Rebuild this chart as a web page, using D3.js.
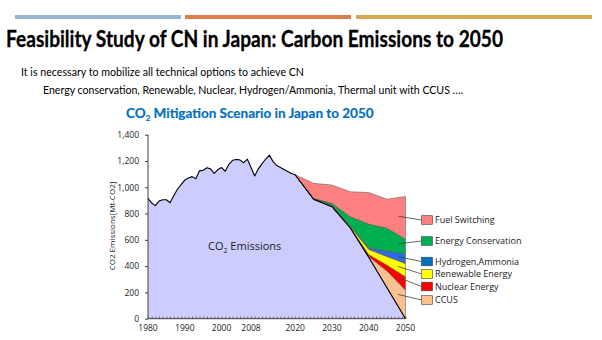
<!DOCTYPE html>
<html><head><meta charset="utf-8">
<script src="https://cdn.jsdelivr.net/npm/d3@7"></script>
<style>body{margin:0;background:#fff}svg{display:block}</style>
</head><body><svg id="c" width="602" height="340"></svg>
<script>
// ---- data ----
const histYears = d3.range(1980, 2021);
const histEmissions = [916,880,860,895,905,905,882,935,985,1020,1055,1070,1081,1065,1125,1130,1148,1140,1105,1135,1150,1122,1175,1205,1212,1208,1187,1215,1150,1086,1140,1180,1215,1245,1195,1165,1150,1135,1120,1105,1095];
const scenYears = [2020,2025,2030,2035,2040,2045,2050];
const scenEmissions = [1095,909,852,690,467,233,0];
const ccus        = [0,0,1,2,7,130,218];
const nuclear     = [0,0,2,3,14,44,102];
const renewable   = [0,4,8,8,40,66,100];
const hydrogen    = [0,0,2,2,12,40,75];
const energyCons  = [0,3,13,71,180,175,110];
const fuelSwitch  = [0,114,139,190,240,221,325];
const layerNames  = ["CCUS","Nuclear Energy","Renewable Energy","Hydrogen,Ammonia","Energy Conservation","Fuel Switching"];
const layerColors = ["#FAC090","#FF0000","#FFFF00","#2E6BE6","#00B050","#FF8080"];
const legendBoxColors = ["#FAC090","#FF0000","#FFFF00","#0070C0","#00B050","#FF8080"];
const yTicks = [0,200,400,600,800,1000,1200,1400];
const xTickLabels = [1980,1990,2000,2008,2020,2030,2040,2050];

const svg = d3.select("#c");
svg.append("rect").attr("width",602).attr("height",340).attr("fill","#fff");

// decorative top bars
const bars = [[15,181,"#94B6D2"],[185,351,"#DD8047"],[356,592,"#D6A951"]];
svg.selectAll(".bar").data(bars).join("rect")
  .attr("x",d=>d[0]).attr("y",15).attr("width",d=>d[1]-d[0]).attr("height",4).attr("fill",d=>d[2]);

// titles
svg.append("text").attr("x",6).attr("y",47).attr("font-family","Lato, 'Open Sans', sans-serif")
  .attr("font-weight","bold").attr("font-size",22.5).attr("fill","#000")
  .attr("stroke","#000").attr("stroke-width",0.3)
  .attr("textLength",497).attr("lengthAdjust","spacingAndGlyphs")
  .text("Feasibility Study of CN in Japan:  Carbon Emissions to 2050");
svg.append("text").attr("x",21).attr("y",76).attr("font-family","Lato, 'Open Sans', sans-serif")
  .attr("font-size",12).attr("fill","#000")
  .attr("textLength",283).attr("lengthAdjust","spacingAndGlyphs")
  .text("It is necessary to mobilize all technical options to achieve CN");
svg.append("text").attr("x",43).attr("y",94).attr("font-family","Lato, 'Open Sans', sans-serif")
  .attr("font-size",12).attr("fill","#000")
  .attr("textLength",420).attr("lengthAdjust","spacingAndGlyphs")
  .text("Energy conservation, Renewable, Nuclear, Hydrogen/Ammonia, Thermal unit with CCUS ….");

const ct = svg.append("text").attr("x",126).attr("y",118).attr("font-family","Lato, 'Open Sans', sans-serif")
  .attr("font-weight","bold").attr("font-size",13.5).attr("fill","#0070C0")
  .attr("stroke","#0070C0").attr("stroke-width",0.2);
ct.append("tspan").text("CO");
ct.append("tspan").attr("font-size",8).attr("dy",3).text("2");
ct.append("tspan").attr("dy",-3).text(" Mitigation Scenario in Japan to 2050");

// scales
const x = d3.scaleLinear().domain([1980,2050]).range([148,405.5]);
const y = d3.scaleLinear().domain([0,1400]).range([318.7,134.7]);

// emissions area (lavender)
const emis = histYears.map((yr,i)=>({yr,v:histEmissions[i]}))
  .concat(scenYears.slice(1).map((yr,i)=>({yr,v:scenEmissions[i+1]})));
svg.append("path").datum(emis)
  .attr("d",d3.area().x(d=>x(d.yr)).y0(y(0)).y1(d=>y(d.v)))
  .attr("fill","#CCCCFF");

// stacked scenario layers
const table = scenYears.map((yr,i)=>({yr,base:scenEmissions[i],l0:ccus[i],l1:nuclear[i],l2:renewable[i],l3:hydrogen[i],l4:energyCons[i],l5:fuelSwitch[i]}));
const keys = ["base","l0","l1","l2","l3","l4","l5"];
const stacked = d3.stack().keys(keys)(table);
const layers = stacked.slice(1);
svg.selectAll(".layer").data(layers).join("path")
  .attr("d",d3.area().x(d=>x(d.data.yr)).y0(d=>y(d[0])).y1(d=>y(d[1])))
  .attr("fill",(d,i)=>layerColors[i]).attr("stroke","#505050").attr("stroke-width",0.5)
  .attr("stroke-linejoin","round");

// emissions line
svg.append("path").datum(emis)
  .attr("d",d3.line().x(d=>x(d.yr)).y(d=>y(d.v)))
  .attr("fill","none").attr("stroke","#000").attr("stroke-width",1.1).attr("stroke-linejoin","round");

// axes
const yAxis = svg.append("g").attr("transform","translate(148,0)")
  .call(d3.axisLeft(y).tickValues(yTicks).tickSize(3).tickPadding(6).tickFormat(d3.format(",")));
yAxis.select(".domain").attr("stroke","#404040").attr("d","M0,"+y(1400)+"V"+y(0));
yAxis.selectAll(".tick line").attr("stroke","#404040");
yAxis.selectAll("text").attr("font-family","'Open Sans', sans-serif").attr("font-size",8.5).attr("fill","#222");

const xAxis = svg.append("g").attr("transform","translate(0,"+y(0)+")")
  .call(d3.axisTop(x).tickValues(d3.range(1980,2051)).tickSize(2).tickFormat(""));
xAxis.select(".domain").attr("stroke","#404040").attr("d","M148,0H"+x(2050));
xAxis.selectAll(".tick line").attr("stroke","#404040").attr("stroke-width",0.8);
svg.append("g").selectAll("text").data(xTickLabels).join("text")
  .attr("x",d=>x(d)).attr("y",331).attr("text-anchor","middle")
  .attr("font-family","'Open Sans', sans-serif").attr("font-size",8.5).attr("fill","#222").text(d=>d);

// y label
svg.append("text").attr("transform","translate(115,226) rotate(-90)").attr("text-anchor","middle")
  .attr("font-family","'Open Sans', sans-serif").attr("font-size",8).attr("fill","#222")
  .text("CO2 Emissions[Mt-CO2]");

// inner label
const il = svg.append("text").attr("x",208).attr("y",250).attr("font-family","'Open Sans', sans-serif")
  .attr("font-size",11).attr("fill","#222");
il.append("tspan").text("CO");
il.append("tspan").attr("font-size",7).attr("dy",3).text("2");
il.append("tspan").attr("dy",-3).text(" Emissions");

// legend with leader lines
const legendRows = [220,241,261.5,274,286.5,300]; // top to bottom: FS, EC, H2, RE, Nuc, CCUS
const t = 0.6, i0 = 5, i1 = 6, anchorYr = 2048;
const order = [5,4,3,2,1,0];
order.forEach((li,k)=>{
  const s = layers[li];
  const lo = s[i0][0]+(s[i1][0]-s[i0][0])*t, hi = s[i0][1]+(s[i1][1]-s[i0][1])*t;
  const ry = legendRows[k];
  svg.append("line").attr("x1",x(anchorYr)).attr("y1",y((lo+hi)/2)).attr("x2",421.5).attr("y2",ry)
    .attr("stroke","#404040").attr("stroke-width",0.8);
  svg.append("rect").attr("x",421.5).attr("y",ry-4.3).attr("width",11).attr("height",8.6)
    .attr("fill",legendBoxColors[li]).attr("stroke","#404040").attr("stroke-width",0.6);
  svg.append("text").attr("x",435).attr("y",ry+3.3).attr("font-family","'Open Sans', sans-serif")
    .attr("font-size",9).attr("fill","#222").text(layerNames[li]);
});
</script></body></html>
